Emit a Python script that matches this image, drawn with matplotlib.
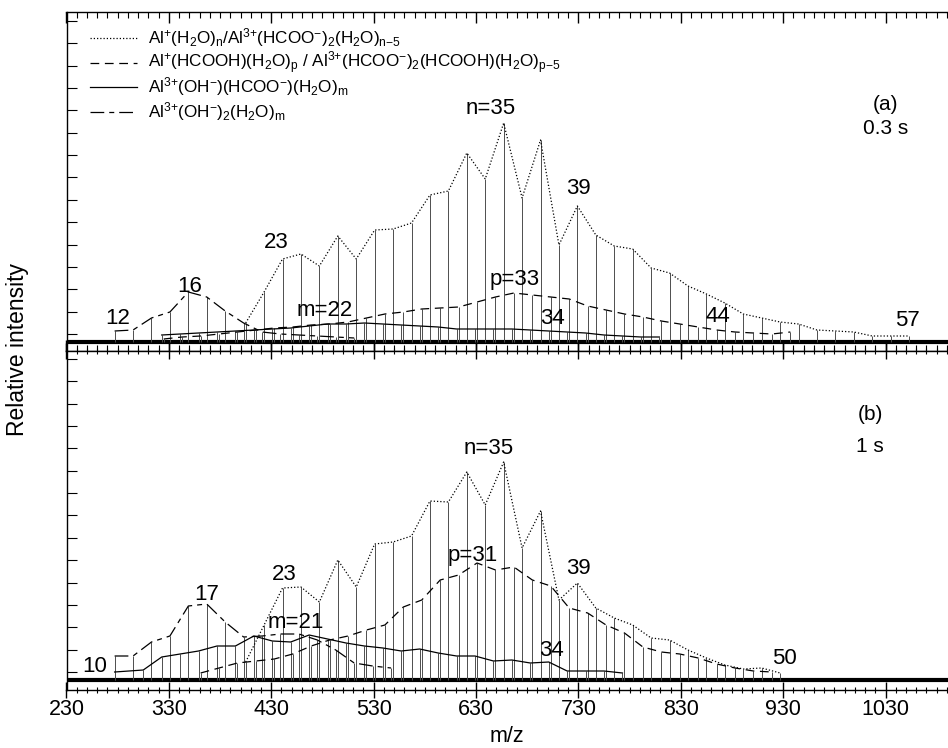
import matplotlib
matplotlib.use("Agg")
import matplotlib.pyplot as plt
from matplotlib.lines import Line2D
from matplotlib.ticker import MultipleLocator, FixedLocator, NullFormatter

plt.rcParams['font.family'] = ['Liberation Sans', 'DejaVu Sans']
plt.rcParams['mathtext.fontset'] = 'custom'
plt.rcParams['mathtext.rm'] = 'Liberation Sans'
plt.rcParams['mathtext.it'] = 'Liberation Sans:italic'
plt.rcParams['mathtext.default'] = 'rm'

# ---------------- data (m/z, relative intensity) ----------------
# panel (a) 0.3 s
a_n_mz = [405, 423, 441, 459, 477, 495, 513, 531, 549, 567, 585, 603, 621, 639, 657,
          675, 693, 711, 729, 747, 765, 783, 801, 819, 837, 855, 873, 891, 909, 927,
          945, 963, 981, 999, 1017, 1035, 1053]
a_n_int = [19, 50, 83, 88, 76, 106, 83, 112, 113, 119, 147, 151, 189, 163, 219,
           144, 202, 97, 136, 107, 96, 93, 74, 69, 56, 48, 39, 28, 24, 20,
           18, 12, 11, 10, 6, 6, 6]

a_p_mz = [325, 343, 361, 379, 397, 415, 433, 451, 469, 487, 505, 523, 541, 559, 577,
          595, 613, 631, 649, 667, 685, 703, 721, 739, 757, 775, 793, 811, 829, 847,
          865, 883, 901, 919, 937]
a_p_int = [3, 5, 6, 8, 10, 12, 14, 15, 17, 18, 20, 24, 28, 30, 33,
           34, 35, 40, 45, 49, 47, 45, 43, 36, 32, 28, 25, 21, 18, 15,
           12, 10, 9, 8, 10]

a_m_mz = [323, 341, 359, 377, 395, 413, 431, 449, 467, 485, 503, 521, 539, 557, 575,
          593, 611, 629, 647, 665, 683, 701, 719, 737, 755, 773, 791, 809]
a_m_int = [7, 8, 9, 10, 11, 12, 13, 14, 16, 18, 18, 19, 18, 17, 16,
           15, 13, 13, 13, 13, 12, 11, 10, 9, 7, 6, 5, 5]

a_d_mz = [277, 295, 313, 331, 349, 367, 385, 403, 421, 439, 457, 475, 493, 511]
a_d_int = [11, 12, 24, 30, 50, 45, 31, 19, 10, 8, 7, 6, 5, 4]

# panel (b) 1 s
b_n_mz = [405, 423, 441, 459, 477, 495, 513, 531, 549, 567, 585, 603, 621, 639, 657,
          675, 693, 711, 729, 747, 765, 783, 801, 819, 837, 855, 873, 891, 909, 927]
b_n_int = [18, 55, 92, 93, 78, 120, 93, 136, 138, 144, 179, 178, 208, 175, 218,
           132, 169, 80, 97, 72, 62, 55, 42, 40, 30, 22, 15, 11, 12, 7]

b_p_mz = [361, 379, 397, 415, 433, 451, 469, 487, 505, 523, 541, 559, 577, 595, 613,
          631, 649, 667, 685, 703, 721, 739, 757, 775, 793, 811, 829, 847, 865, 883, 901, 919]
b_p_int = [7, 12, 17, 19, 21, 26, 34, 40, 44, 50, 55, 73, 80, 100, 105,
           117, 110, 113, 100, 94, 72, 67, 55, 47, 33, 28, 26, 22, 16, 12, 9, 8]

b_m_mz = [277, 305, 323, 341, 359, 377, 395, 413, 431, 449, 467, 485, 503, 521,
          539, 557, 575, 593, 611, 629, 647, 665, 683, 701, 719, 737, 755, 773]
b_m_int = [8, 10, 23, 26, 29, 34, 34, 44, 39, 38, 45, 41, 37, 34,
           32, 29, 31, 27, 24, 24, 19, 20, 17, 18, 9, 9, 9, 7]

b_d_mz = [277, 295, 313, 331, 349, 367, 385, 403, 421, 439, 457, 475, 493, 511, 529, 547]
b_d_int = [24, 24, 38, 44, 74, 76, 58, 43, 44, 46, 46, 40, 30, 17, 14, 12]

labels_a = [("12", 280, 24), ("16", 350, 55), ("23", 435, 99), ("m=22", 482, 31),
            ("n=35", 644, 233), ("p=33", 668, 63), ("39", 730, 154), ("34", 705, 24),
            ("44", 866, 25), ("57", 1051, 22)]
labels_b = [("10", 258, 13), ("17", 367, 85), ("23", 443, 106), ("m=21", 454, 57),
            ("n=35", 642, 232), ("p=31", 627, 125), ("39", 730, 112), ("34", 704, 30),
            ("50", 931, 21)]

legend_texts = [
    r"Al$^{{+}}$(H$_{2}$O)$_{n}$/Al$^{3{+}}$(HCOO$^{{-}}$)$_{2}$(H$_{2}$O)$_{n{-}5}$",
    r"Al$^{{+}}$(HCOOH)(H$_{2}$O)$_{p}$ / Al$^{3{+}}$(HCOO$^{{-}}$)$_{2}$(HCOOH)(H$_{2}$O)$_{p{-}5}$",
    r"Al$^{3{+}}$(OH$^{{-}}$)(HCOO$^{{-}}$)(H$_{2}$O)$_{m}$",
    r"Al$^{3{+}}$(OH$^{{-}}$)$_{2}$(H$_{2}$O)$_{m}$",
]

# ---------------- styles ----------------
st_n = dict(color='black', lw=0.9, linestyle=(0, (1.0, 1.6)))
st_p = dict(color='black', lw=0.9, linestyle=(0, (7, 4.5)))
st_m = dict(color='black', lw=0.9, linestyle='-')
st_d = dict(color='black', lw=0.9, linestyle=(0, (11, 4, 4, 4)))

fig = plt.figure(figsize=(9.48, 7.48), dpi=100)
W, H = 948, 748
L = 66.5 / W
ax1 = fig.add_axes([L, 1 - 351 / H, 1 - L, (351 - 12) / H])
ax2 = fig.add_axes([L, 1 - 690 / H, 1 - L, (690 - 351) / H], sharex=ax1)

ytick_vals = [321 - 22.35 * k for k in range(15)]

def draw_panel(ax, series, labels, ylim):
    ax.set_xlim(230, 1091)
    ax.set_ylim(*ylim)
    ax.axhline(0, color='black', lw=3.0, zorder=1)
    for mz, it, st in series:
        ax.vlines(mz, 0, it, colors='0.3', lw=0.7, zorder=2)
        ax.plot(mz, it, zorder=3, **st)
    for txt, x, y in labels:
        ax.text(x, y, txt, ha='center', va='center', fontsize=16)
    ax.xaxis.set_major_locator(FixedLocator(list(range(230, 1100, 100))))
    ax.xaxis.set_minor_locator(MultipleLocator(10))
    ax.yaxis.set_major_locator(FixedLocator(ytick_vals))
    ax.yaxis.set_major_formatter(NullFormatter())
    ax.tick_params(axis='y', direction='in', length=7, width=0.8, left=True, right=False)
    ax.spines['right'].set_visible(False)
    for s in ax.spines.values():
        s.set_linewidth(1.0)

draw_panel(ax1, [(a_n_mz, a_n_int, st_n), (a_p_mz, a_p_int, st_p),
                 (a_m_mz, a_m_int, st_m), (a_d_mz, a_d_int, st_d)], labels_a, (-9, 330))
draw_panel(ax2, [(b_n_mz, b_n_int, st_n), (b_p_mz, b_p_int, st_p),
                 (b_m_mz, b_m_int, st_m), (b_d_mz, b_d_int, st_d)], labels_b, (-10, 329))

ax1.tick_params(axis='x', which='both', top=True, bottom=True, direction='in',
                labelbottom=False)
ax1.tick_params(axis='x', which='major', length=8, width=1.0)
ax1.tick_params(axis='x', which='minor', length=4.5, width=0.8)
ax2.tick_params(axis='x', which='both', top=True, bottom=True, direction='inout',
                labelsize=15.5, pad=1)
ax2.tick_params(axis='x', which='major', length=11, width=1.0)
ax2.tick_params(axis='x', which='minor', length=5, width=0.8)
ax2.set_xticks(list(range(230, 1100, 100)))
ax2.set_xticklabels([str(v) for v in range(230, 1100, 100)])
ax2.set_xlim(230, 1091)

ax1.text(1030, 237, "(a)", ha='center', va='center', fontsize=15)
ax1.text(1030, 213, "0.3 s", ha='center', va='center', fontsize=15)
ax2.text(1015, 265, "(b)", ha='center', va='center', fontsize=15)
ax2.text(1015, 233, "1 s", ha='center', va='center', fontsize=15)

# legend drawn in figure pixel positions
styles = [st_n, st_p, st_m, st_d]
rows_y = [38, 63, 87, 112]
for st, txt, yy in zip(styles, legend_texts, rows_y):
    fig.add_artist(Line2D([90 / W, 137 / W], [1 - yy / H, 1 - yy / H],
                          transform=fig.transFigure, **st))
    fig.text(148 / W, 1 - yy / H, txt, ha='left', va='center', fontsize=12.3)

fig.text((66.5 + 881.5 / 2) / W, 1 - 737 / H, "m/z", ha='center', va='center', fontsize=15.5)
fig.text(18 / W, 1 - 350 / H, "Relative intensity", rotation=90, ha='center', va='center',
         fontsize=16.5)

fig.savefig("out.png", dpi=100)
